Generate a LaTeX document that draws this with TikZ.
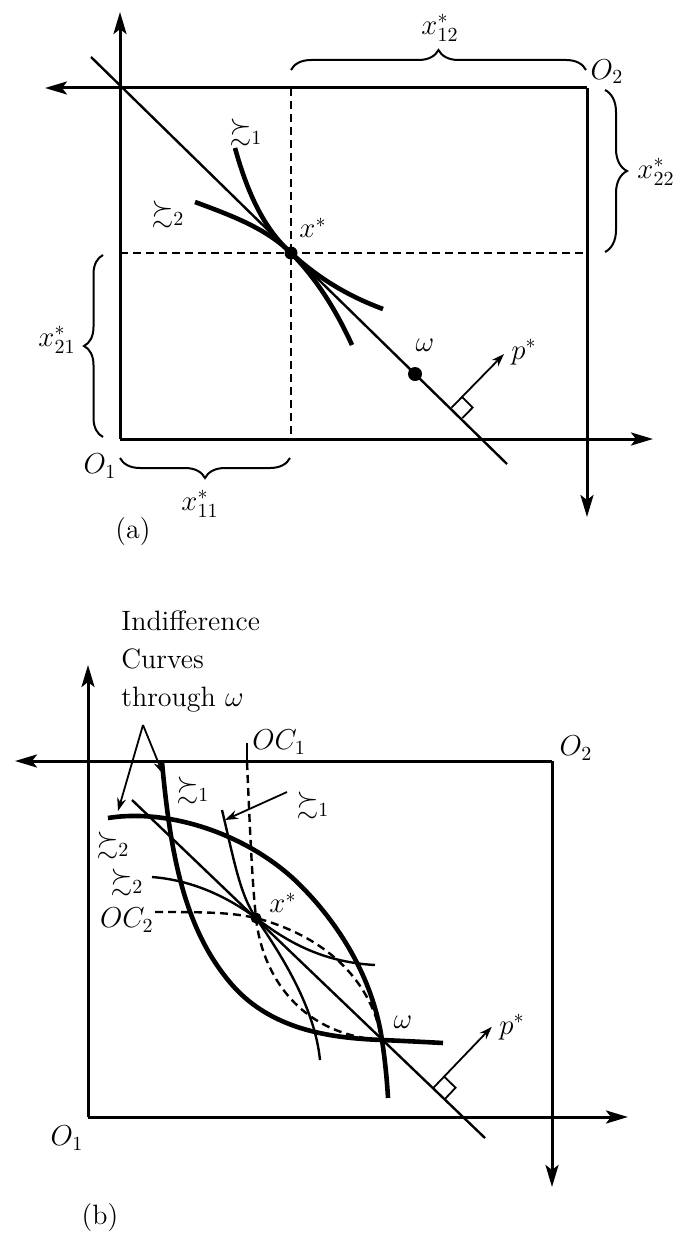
\documentclass[tikz,border=0pt]{standalone}
\usepackage{amssymb}
\usetikzlibrary{arrows.meta,decorations.pathreplacing}

\begin{document}
\begin{tikzpicture}
  [x=0.5pt, y=-0.5pt, font=\fontsize{14}{16}\selectfont,
   axisline/.style={line width=1.5pt, -{Stealth[length=11pt,width=6.5pt,inset=2.5pt]}},
   budget/.style={line width=1.2pt},
   guide/.style={line width=1.1pt, dash pattern=on 4pt off 2.5pt},
   icthick/.style={line width=2.3pt},
   icthin/.style={line width=1.2pt},
   offer/.style={line width=1.2pt, dash pattern=on 4pt off 2.5pt},
   pointer/.style={line width=0.9pt, -{Stealth[length=6.5pt,width=4.5pt]}},
   curly/.style={line width=1pt, decorate, decoration={brace, amplitude=#1}},
   dot/.style={circle, fill=black, inner sep=0pt, minimum size=#1},
   lbl/.style={inner sep=1pt}]

  \useasboundingbox (0,0) rectangle (680,1252);

  % ---------- (a) ----------
  % Ecken und Achsen
  \coordinate (Oa1) at (120,439);
  \coordinate (Oa2) at (587,88);
  \coordinate (ya1) at (120,12);
  \coordinate (xa1) at (653,439);
  \coordinate (ya2) at (587,517);
  \coordinate (xa2) at (45,88);
  \foreach \from/\to in {Oa1/ya1, Oa1/xa1, Oa2/ya2, Oa2/xa2}
    \draw[axisline] (\from) -- (\to);

  % Gleichgewicht und Hilfslinien
  \coordinate (xs) at (291,253);
  \coordinate (ga1) at (291,88);
  \coordinate (ga2) at (291,439);
  \coordinate (ga3) at (120,253);
  \coordinate (ga4) at (587,253);
  \foreach \from/\to in {ga1/ga2, ga3/ga4}
    \draw[guide] (\from) -- (\to);

  % Budgetgerade
  \coordinate (ba1) at (91,57);
  \coordinate (ba2) at (507,464);
  \draw[budget] (ba1) -- (ba2);

  % Indifferenzkurven
  \coordinate (ia1) at (235,148);
  \coordinate (ia2) at (383,309);
  \coordinate (ja1) at (195,202);
  \coordinate (ja2) at (352,345);
  \draw[icthick] (ia1) .. controls (248,195) and (265,230) .. (xs)
                       .. controls (316,276) and (345,295) .. (ia2);
  \draw[icthick] (ja1) .. controls (230,215) and (266,228) .. (xs)
                       .. controls (316,278) and (336,310) .. (ja2);

  \node[dot=6.5pt] (xsdot) at (xs) {};
  \node[dot=7pt] (wa) at (415,374) {};

  % Preisvektor
  \coordinate (pa) at (451.5,407.7);
  \coordinate (pan) at (462,397);
  \coordinate (pand) at (472.7,407.5);
  \coordinate (pad) at (462.2,418.2);
  \coordinate (pat) at (504,354);
  \draw[line width=0.9pt] (pan) -- (pand) -- (pad);
  \draw[pointer] (pa) -- (pat);

  % Klammern
  \coordinate (cb1) at (291,70);
  \coordinate (cb2) at (586,70);
  \coordinate (cb3) at (605,90);
  \coordinate (cb4) at (605,252);
  \coordinate (cb5) at (103,437);
  \coordinate (cb6) at (103,255);
  \coordinate (cb7) at (290,458);
  \coordinate (cb8) at (120,458);
  \draw[curly=10pt] (cb1) -- (cb2);
  \draw[curly=11pt] (cb3) -- (cb4);
  \draw[curly=9.5pt] (cb5) -- (cb6);
  \draw[curly=10pt] (cb7) -- (cb8);

  % Beschriftungen
  \node[lbl] (lx12) at (440,28) {$x^*_{12}$};
  \node[lbl] (lx22) at (656,172) {$x^*_{22}$};
  \node[lbl] (lx21) at (57,340) {$x^*_{21}$};
  \node[lbl] (lx11) at (200,504) {$x^*_{11}$};
  \node[lbl] (lOa1) at (100,466) {$O_1$};
  \node[lbl] (lOa2) at (607,72) {$O_2$};
  \node[lbl] (lxs) at (313,228) {$x^*$};
  \node[lbl] (lwa) at (425,345) {$\omega$};
  \node[lbl] (lpa) at (524,352) {$p^*$};
  \node[lbl] (lia) at (246,133) {$\succsim_1$};
  \node[lbl] (lja) at (168,214) {$\succsim_2$};
  \node[lbl] (capa) at (133,532) {(a)};

  % ---------- (b) ----------
  \coordinate (Ob1) at (88,1117);
  \coordinate (Ob2) at (552,761);
  \coordinate (yb1) at (88,665);
  \coordinate (xb1) at (628,1117);
  \coordinate (yb2) at (552,1187);
  \coordinate (xb2) at (15,761);
  \foreach \from/\to in {Ob1/yb1, Ob1/xb1, Ob2/yb2, Ob2/xb2}
    \draw[axisline] (\from) -- (\to);

  \coordinate (xsb) at (256,918);
  \coordinate (wb) at (382,1040);

  % Budgetgerade
  \coordinate (bb1) at (132,800);
  \coordinate (bb2) at (485,1138);
  \draw[budget] (bb1) -- (bb2);

  % Indifferenzkurven durch omega
  \coordinate (ta1) at (108,818);
  \coordinate (ta2) at (388,1098);
  \coordinate (tb1) at (162,762);
  \coordinate (tb2) at (443,1043);
  \draw[icthick] (ta1) .. controls (170,808) and (250,835) .. (300,885)
                       .. controls (345,930) and (374,985) .. (wb)
                       .. controls (385,1060) and (387,1080) .. (ta2);
  \draw[icthick] (tb1) .. controls (170,850) and (183,925) .. (228,980)
                       .. controls (268,1030) and (330,1038) .. (wb)
                       .. controls (405,1041) and (425,1042) .. (tb2);

  % Indifferenzkurven durch x*
  \coordinate (tc1) at (222,810);
  \coordinate (tc2) at (320,1060);
  \coordinate (td1) at (152,877);
  \coordinate (td2) at (375,965);
  \draw[icthin] (tc1) .. controls (234,860) and (240,895) .. (xsb)
                      .. controls (285,960) and (315,1010) .. (tc2);
  \draw[icthin] (td1) .. controls (190,880) and (225,895) .. (xsb)
                      .. controls (285,940) and (320,962) .. (td2);

  % Angebotskurven
  \coordinate (oc1t) at (247,743);
  \coordinate (oc1a) at (247,762);
  \coordinate (oc2a) at (155,912);
  \draw[line width=1.1pt] (oc1t) -- (oc1a);
  \draw[offer] (oc1a) .. controls (250,830) and (252,880) .. (xsb)
                      .. controls (262,975) and (300,1035) .. (wb);
  \draw[offer] (oc2a) .. controls (200,912) and (230,912) .. (xsb)
                      .. controls (320,935) and (370,975) .. (wb);

  \node[dot=5.5pt] (xsbdot) at (xsb) {};

  % Preisvektor
  \coordinate (pb) at (433,1088.2);
  \coordinate (pbn) at (444.1,1076.6);
  \coordinate (pbnd) at (455.6,1087.7);
  \coordinate (pbd) at (444.6,1099.3);
  \coordinate (pbt) at (491.8,1026.8);
  \draw[line width=0.9pt] (pbn) -- (pbnd) -- (pbd);
  \draw[pointer] (pb) -- (pbt);

  % Beschriftungen
  \node[lbl, align=left, anchor=north west, font=\fontsize{14}{19}\selectfont]
    (ictext) at (119,608) {Indifference\\Curves\\through $\omega$};
  \coordinate (icfoot) at (143,725);
  \coordinate (ica) at (118,811);
  \coordinate (icb) at (163,774);
  \foreach \to in {ica, icb}
    \draw[pointer] (icfoot) -- (\to);

  \node[lbl] (ltb) at (193,790) {$\succsim_1$};
  \node[lbl] (ltc) at (313,805) {$\succsim_1$};
  \coordinate (ltcfoot) at (287,792);
  \coordinate (ltctip) at (225,820);
  \draw[pointer] (ltcfoot) -- (ltctip);
  \node[lbl] (lta) at (113,845) {$\succsim_2$};
  \node[lbl] (ltd) at (127,882) {$\succsim_2$};
  \node[lbl, anchor=west] (loc1) at (250,742) {$OC_1$};
  \node[lbl, anchor=east] (loc2) at (156,920) {$OC_2$};
  \node[lbl] (lxsb) at (283,903) {$x^*$};
  \node[lbl] (lwb) at (403,1022) {$\omega$};
  \node[lbl] (lpb) at (512,1027) {$p^*$};
  \node[lbl] (lOb2) at (576,748) {$O_2$};
  \node[lbl] (lOb1) at (67,1138) {$O_1$};
  \node[lbl] (capb) at (100,1217) {(b)};
\end{tikzpicture}
\end{document}
